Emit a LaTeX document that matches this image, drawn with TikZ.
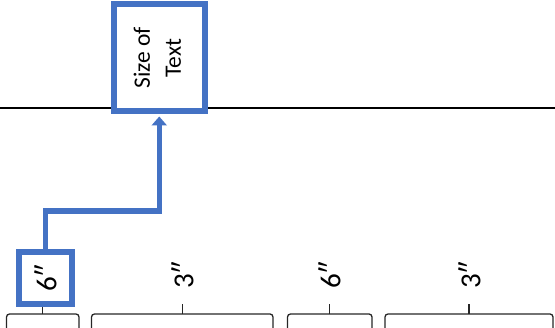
\documentclass[tikz,border=0pt]{standalone}
\usepackage{fontspec}
\setmainfont{Carlito}
\usepackage{tikz}
\usetikzlibrary{arrows.meta}
\definecolor{boxblue}{HTML}{4472C4}

\begin{document}
\begin{tikzpicture}[
		x=1pt, y=-1pt,
		box/.style={rectangle, draw=boxblue, fill=white, line width=6pt, inner sep=0pt},
		dim/.style={inner sep=0pt, font=\fontsize{29}{30}\selectfont},
		brace/.style={draw=black!85, line width=1.3pt, rounded corners=3pt}
	]
  \useasboundingbox (0,0) rectangle (555,328);
  \draw[line width=1.2pt] (0,108) -- (555,108);
  \foreach \l/\r in {6.5/79, 91.5/273, 287.5/372, 385/553} {
    \draw[brace] (\l,332) -- (\l,314) -- (\r,314) -- (\r,332);
    \draw[brace] ({(\l+\r)/2},314) -- ++(0,-10);
  }
  \node (size) [box, minimum width=91.5pt, minimum height=107pt, font=\fontsize{23.5}{31}\selectfont] at (159.25,58) {\rotatebox{90}{\begin{tabular}{@{}c@{}}Size of\\Text\end{tabular}}};
  \node (d_1) [box, dim, minimum width=53pt, minimum height=52pt, line width=6.5pt] at (45.5,278) {\rotatebox{90}{6″}};
  \node (d_2) [dim] at (182.5,275) {\rotatebox{90}{3″}};
  \node (d_3) [dim] at (329.5,275) {\rotatebox{90}{6″}};
  \node (d_4) [dim] at (469.5,275) {\rotatebox{90}{3″}};
  \draw[boxblue, line width=5.5pt, -{Triangle[width=15pt, length=9pt]}, shorten >=2pt] (d_1.north) -- ++(0,-37.75) -| (size.south);
\end{tikzpicture}
\end{document}
